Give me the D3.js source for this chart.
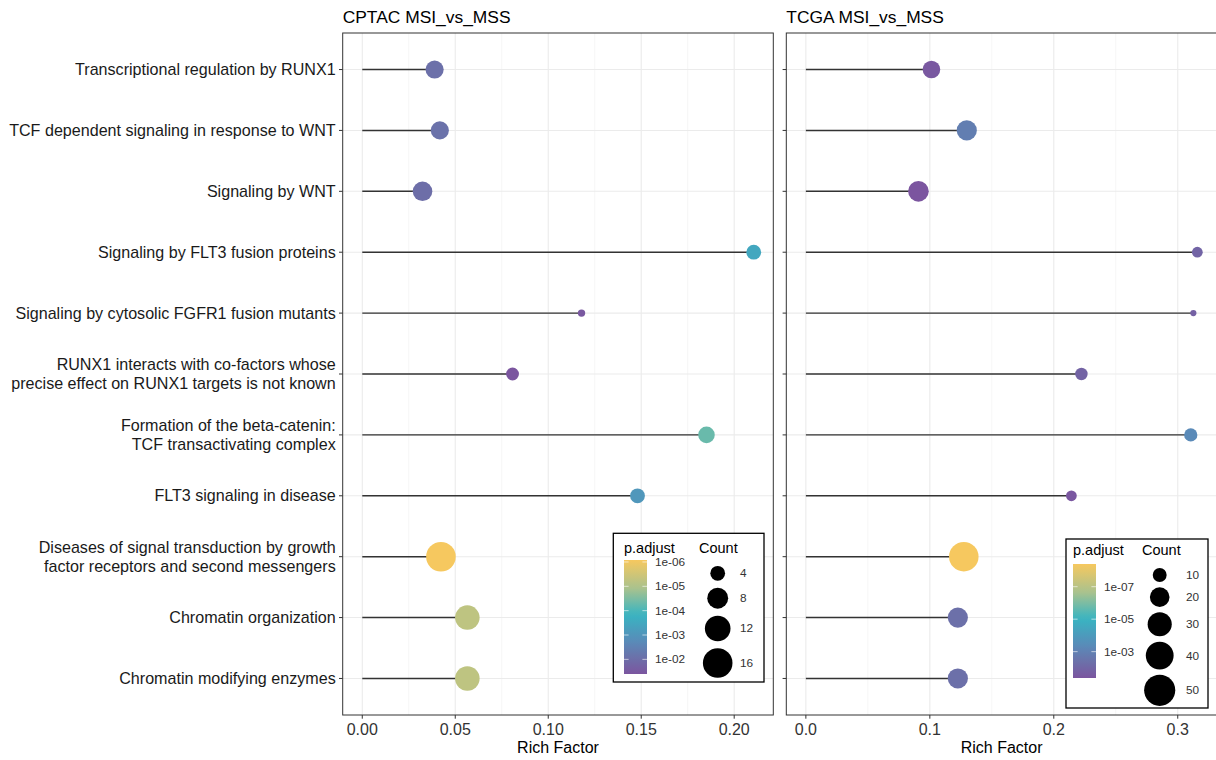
<!DOCTYPE html>
<html>
<head>
<meta charset="utf-8">
<script src="https://cdn.jsdelivr.net/npm/d3@7"></script>
<style>
body { margin: 0; background: #fff; }
text { font-family: "Liberation Sans", Arial, sans-serif; }
</style>
</head>
<body>
<svg id="chart" width="1216" height="760"></svg>
<script>
// pathway terms, top to bottom ("\n" = line break in the label)
const terms = [
    "Transcriptional regulation by RUNX1",
    "TCF dependent signaling in response to WNT",
    "Signaling by WNT",
    "Signaling by FLT3 fusion proteins",
    "Signaling by cytosolic FGFR1 fusion mutants",
    "RUNX1 interacts with co-factors whose\nprecise effect on RUNX1 targets is not known",
    "Formation of the beta-catenin:\nTCF transactivating complex",
    "FLT3 signaling in disease",
    "Diseases of signal transduction by growth\nfactor receptors and second messengers",
    "Chromatin organization",
    "Chromatin modifying enzymes"
];

// CPTAC MSI_vs_MSS
const cptacRich  = [0.0389, 0.0417, 0.0324, 0.2105, 0.1179, 0.0808, 0.1851, 0.148, 0.0423, 0.0565, 0.0565];
const cptacCount = [6, 6, 7, 4, 1, 3, 5, 4, 16, 11, 11];
const cptacPadj  = [9e-3, 8e-3, 1e-2, 3.2e-4, 0.033, 0.04, 5e-5, 9e-4, 8.3e-7, 5.8e-6, 5.8e-6];

// TCGA MSI_vs_MSS
const tcgaRich  = [0.1013, 0.1298, 0.0908, 0.3158, 0.3126, 0.2223, 0.3105, 0.2142, 0.1274, 0.1226, 0.1226];
const tcgaCount = [16, 21, 22, 6, 2, 8, 9, 6, 45, 21, 21];
const tcgaPadj  = [0.032, 1.3e-3, 0.042, 0.0115, 0.015, 0.013, 4.5e-4, 0.037, 4e-9, 4.4e-3, 4.4e-3];

// axis + legend breaks
const cptacXTicks = [0, 0.05, 0.10, 0.15, 0.20];
const tcgaXTicks  = [0, 0.1, 0.2, 0.3];
const cptacPTicks = [1e-6, 1e-5, 1e-4, 1e-3, 1e-2];
const tcgaPTicks  = [1e-7, 1e-5, 1e-3];
const cptacCountBreaks = [4, 8, 12, 16];
const tcgaCountBreaks  = [10, 20, 30, 40, 50];

// colour ramp, low p.adjust (0) -> high p.adjust (1)
const ramp = d3.scaleLinear()
    .domain([0, 0.25, 0.48, 0.72, 0.86, 1])
    .range(["#F6C85F", "#A9C28E", "#38B4C2", "#5A8AB8", "#6C70A9", "#7B559F"])
    .interpolate(d3.interpolateRgb);

const svg = d3.select("#chart");
const panelTop = 33, panelBottom = 715;

const y = d3.scalePoint().domain(terms).range([panelTop, panelBottom]).padding(0.6);

const pExp = (d) => "1e-" + String(Math.round(-Math.log10(d))).padStart(2, "0");

const drawPanel = (cfg) => {
    const g = svg.append("g");
    const ext = [0, d3.max(cfg.rich)];
    const pad = (ext[1] - ext[0]) * 0.05;
    const x = d3.scaleLinear().domain([ext[0] - pad, ext[1] + pad]).range([cfg.x0, cfg.x1]);
    const r = d3.scaleSqrt().domain([0, cfg.sizeMax]).range([0, cfg.rMax]);
    const pPos = d3.scaleLog().domain(d3.extent(cfg.padj)).range([0, 1]);
    const colour = (p) => ramp(pPos(p));

    // minor grid
    const minor = d3.pairs(cfg.xTicks).map(([a, b]) => (a + b) / 2);
    g.selectAll(".minor").data(minor).enter().append("line")
        .attr("x1", d => x(d)).attr("x2", d => x(d))
        .attr("y1", panelTop).attr("y2", panelBottom)
        .attr("stroke", "#f0f0f0").attr("stroke-width", 0.6);
    // major grid
    g.selectAll(".majx").data(cfg.xTicks).enter().append("line")
        .attr("x1", d => x(d)).attr("x2", d => x(d))
        .attr("y1", panelTop).attr("y2", panelBottom)
        .attr("stroke", "#ebebeb").attr("stroke-width", 1.1);
    g.selectAll(".majy").data(terms).enter().append("line")
        .attr("x1", cfg.x0).attr("x2", cfg.x1)
        .attr("y1", d => y(d)).attr("y2", d => y(d))
        .attr("stroke", "#ebebeb").attr("stroke-width", 1.1);

    const rows = terms.map((t, i) => ({ term: t, rich: cfg.rich[i], count: cfg.count[i], padj: cfg.padj[i] }));

    // lollipop sticks
    g.selectAll(".stick").data(rows).enter().append("line")
        .attr("x1", x(0)).attr("x2", d => x(d.rich))
        .attr("y1", d => y(d.term)).attr("y2", d => y(d.term))
        .attr("stroke", "#333").attr("stroke-width", 1.4);

    // points
    g.selectAll(".pt").data(rows).enter().append("circle")
        .attr("cx", d => x(d.rich)).attr("cy", d => y(d.term))
        .attr("r", d => r(d.count))
        .attr("fill", d => colour(d.padj));

    // border
    g.append("rect")
        .attr("x", cfg.x0).attr("y", panelTop)
        .attr("width", cfg.x1 - cfg.x0).attr("height", panelBottom - panelTop)
        .attr("fill", "none").attr("stroke", "#333").attr("stroke-width", 1);

    // x axis ticks + labels
    g.selectAll(".xt").data(cfg.xTicks).enter().append("line")
        .attr("x1", d => x(d)).attr("x2", d => x(d))
        .attr("y1", panelBottom).attr("y2", panelBottom + 3.7)
        .attr("stroke", "#333").attr("stroke-width", 1);
    g.selectAll(".xl").data(cfg.xTicks).enter().append("text")
        .attr("x", d => x(d)).attr("y", 735)
        .attr("text-anchor", "middle").attr("font-size", 16).attr("fill", "#333")
        .text(d => d3.format(cfg.fmt)(d));
    g.append("text")
        .attr("x", (cfg.x0 + cfg.x1) / 2).attr("y", 753)
        .attr("text-anchor", "middle").attr("font-size", 16).attr("fill", "#000")
        .text("Rich Factor");

    // y ticks
    g.selectAll(".yt").data(terms).enter().append("line")
        .attr("x1", cfg.x0 - 3.7).attr("x2", cfg.x0)
        .attr("y1", d => y(d)).attr("y2", d => y(d))
        .attr("stroke", "#333").attr("stroke-width", 1);

    if (cfg.labels) {
        const lab = g.selectAll(".yl").data(terms).enter().append("text")
            .attr("text-anchor", "end").attr("font-size", 16.1).attr("fill", "#1a1a1a");
        lab.each(function (d) {
            const lines = d.split("\n");
            const t = d3.select(this);
            lines.forEach((ln, k) => {
                t.append("tspan")
                    .attr("x", cfg.x0 - 7)
                    .attr("y", y(d) + (k - (lines.length - 1) / 2) * 19 + 5.7)
                    .text(ln);
            });
        });
    }

    // title
    g.append("text")
        .attr("x", cfg.x0).attr("y", 22.7)
        .attr("font-size", 17.4).attr("fill", "#000")
        .text(cfg.title);

    // legend
    const L = cfg.legend;
    const lg = svg.append("g");
    lg.append("rect")
        .attr("x", L.x0).attr("y", L.y0)
        .attr("width", L.x1 - L.x0).attr("height", L.y1 - L.y0)
        .attr("fill", "#fff").attr("stroke", "#000").attr("stroke-width", 1.3);
    lg.append("text").attr("x", L.barX).attr("y", L.titleY)
        .attr("font-size", 14.5).text("p.adjust");
    lg.append("text").attr("x", L.countX).attr("y", L.titleY)
        .attr("font-size", 14.5).text("Count");

    const gradId = "grad-" + cfg.id;
    const grad = svg.append("defs").append("linearGradient")
        .attr("id", gradId).attr("x1", 0).attr("x2", 0).attr("y1", 0).attr("y2", 1);
    d3.range(0, 1.0001, 0.05).forEach(f => {
        grad.append("stop").attr("offset", f).attr("stop-color", ramp(f));
    });
    lg.append("rect")
        .attr("x", L.barX).attr("y", L.barY0)
        .attr("width", L.barW).attr("height", L.barY1 - L.barY0)
        .attr("fill", `url(#${gradId})`);

    const pY = d3.scaleLog().domain(d3.extent(cfg.padj)).range([L.barY0, L.barY1]);
    cfg.pTicks.forEach(p => {
        [[L.barX, L.barX + L.barW / 5], [L.barX + L.barW * 4 / 5, L.barX + L.barW]].forEach(([a, b]) => {
            lg.append("line").attr("x1", a).attr("x2", b)
                .attr("y1", pY(p)).attr("y2", pY(p))
                .attr("stroke", "#fff").attr("stroke-opacity", 0.6).attr("stroke-width", 1);
        });
        lg.append("text")
            .attr("x", L.barX + L.barW + 8).attr("y", pY(p) + 4)
            .attr("font-size", 11.8).attr("fill", "#333")
            .text(pExp(p));
    });

    let cy = L.circleY0;
    cfg.countBreaks.forEach((c, k) => {
        if (k > 0) cy += r(cfg.countBreaks[k - 1]) + r(c) + L.gap;
        lg.append("circle").attr("cx", L.circleX).attr("cy", cy).attr("r", r(c)).attr("fill", "#000");
        lg.append("text").attr("x", L.labelX).attr("y", cy + 4)
            .attr("font-size", 11.8).attr("fill", "#333").text(c);
    });
};

drawPanel({
    id: "cptac", title: "CPTAC MSI_vs_MSS", x0: 342.7, x1: 773.3, labels: true,
    rich: cptacRich, count: cptacCount, padj: cptacPadj,
    xTicks: cptacXTicks, fmt: ".2f", pTicks: cptacPTicks, countBreaks: cptacCountBreaks,
    sizeMax: 16, rMax: 14.8,
    legend: { x0: 613.3, x1: 764, y0: 533.3, y1: 682, titleY: 553, barX: 624, barW: 23,
              barY0: 560, barY1: 674, countX: 699, circleX: 717.7, circleY0: 573.3, labelX: 740, gap: 7 }
});

drawPanel({
    id: "tcga", title: "TCGA MSI_vs_MSS", x0: 786.3, x1: 1216.9, labels: false,
    rich: tcgaRich, count: tcgaCount, padj: tcgaPadj,
    xTicks: tcgaXTicks, fmt: ".1f", pTicks: tcgaPTicks, countBreaks: tcgaCountBreaks,
    sizeMax: 50, rMax: 15.56,
    legend: { x0: 1066, x1: 1208, y0: 539, y1: 708, titleY: 555, barX: 1073, barW: 23,
              barY0: 564, barY1: 678, countX: 1142, circleX: 1159.7, circleY0: 575, labelX: 1186, gap: 5.3 }
});
</script>
</body>
</html>
